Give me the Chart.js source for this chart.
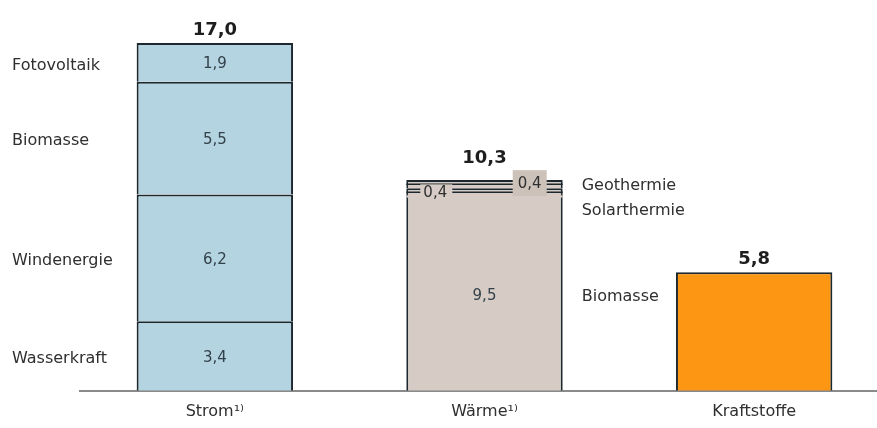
<!DOCTYPE html>
<html lang="de">
<head>
<meta charset="utf-8">
<title>Erneuerbare Energien nach Sektoren</title>
<script src="https://cdn.jsdelivr.net/npm/chart.js@4/dist/chart.umd.min.js"></script>
<style>
  html, body { margin: 0; padding: 0; background: #ffffff; overflow: hidden; }
  #wrap { width: 890px; height: 428px; }
</style>
</head>
<body>
<div id="wrap"><canvas id="chart" width="890" height="428"></canvas></div>
<script>
// Anteile erneuerbarer Energien je Sektor (in %)
const categories = ['Strom¹⁾', 'Wärme¹⁾', 'Kraftstoffe'];

const wasserkraft    = [3.4, null, null];
const windenergie    = [6.2, null, null];
const biomasseStrom  = [5.5, null, null];
const fotovoltaik    = [1.9, null, null];

const biomasseWaerme = [null, 9.5, null];
const solarthermie   = [null, 0.4, null];
const geothermie     = [null, 0.4, null];

const kraftstoffe    = [null, null, 5.8];

const FONT = '"DejaVu Sans", "Liberation Sans", Arial, sans-serif';
const BLUE = '#b3d4e0';
const BEIGE = '#d6ccc5';
const ORANGE = '#fd9612';
const EDGE = '#1c282e';
const TEXT = '#2f2f2f';

const fmt = v => v.toFixed(1).replace('.', ',');

const datasets = [
  { label: 'Wasserkraft',  data: wasserkraft,    backgroundColor: BLUE,   side: 'left' },
  { label: 'Windenergie',  data: windenergie,    backgroundColor: BLUE,   side: 'left' },
  { label: 'Biomasse',     data: biomasseStrom,  backgroundColor: BLUE,   side: 'left' },
  { label: 'Fotovoltaik',  data: fotovoltaik,    backgroundColor: BLUE,   side: 'left' },
  { label: 'Biomasse',     data: biomasseWaerme, backgroundColor: BEIGE,  side: 'right',
    borderWidth: { left: 2, right: 2, top: 0, bottom: 0 } },
  { label: 'Solarthermie', data: solarthermie,   backgroundColor: BEIGE,  side: 'right', small: 'left' },
  { label: 'Geothermie',   data: geothermie,     backgroundColor: BEIGE,  side: 'right', small: 'right' },
  { label: 'Kraftstoffe',  data: kraftstoffe,    backgroundColor: ORANGE, side: 'none' }
].map(d => Object.assign({
  borderColor: EDGE,
  borderWidth: 2,
  borderSkipped: 'start',
  barPercentage: 0.58,
  categoryPercentage: 1.0
}, d));

// Beschriftungen der Segmente, Summen und Seitenlegenden
const labelPlugin = {
  id: 'segmentLabels',
  afterDatasetsDraw(chart) {
    const ctx = chart.ctx;
    const nCat = categories.length;
    ctx.save();

    // Kopfbereich der Wärme-Säule: Fuge schließen, feine Zwischenlinien
    chart.data.datasets.forEach((ds, di) => {
      if (!ds.small) return;
      const meta = chart.getDatasetMeta(di);
      meta.data.forEach((el, i) => {
        if (ds.data[i] == null) return;
        const p = el.getProps(['x', 'y', 'base', 'width'], true);
        const l = p.x - p.width / 2, r = p.x + p.width / 2;
        if (ds.small === 'left') {
          ctx.fillStyle = BEIGE;
          ctx.fillRect(l + 1, p.base - 1.5, p.width - 2, 3);
        }
        const mid = (p.y + p.base) / 2;
        ctx.strokeStyle = EDGE;
        ctx.lineWidth = 1.5;
        ctx.beginPath();
        ctx.moveTo(l, mid);
        ctx.lineTo(r, mid);
        ctx.stroke();
      });
    });

    ctx.textBaseline = 'middle';

    chart.data.datasets.forEach((ds, di) => {
      const meta = chart.getDatasetMeta(di);
      meta.data.forEach((el, i) => {
        const v = ds.data[i];
        if (v == null) return;
        const p = el.getProps(['x', 'y', 'base', 'width'], true);
        const cy = (p.y + p.base) / 2;
        const left = p.x - p.width / 2;
        const right = p.x + p.width / 2;

        if (ds.small === 'left') {
          ctx.fillStyle = BEIGE;
          ctx.fillRect(left + 14, cy - 8, 32, 16);
          ctx.fillStyle = TEXT;
          ctx.font = '15px ' + FONT;
          ctx.textAlign = 'center';
          ctx.fillText(fmt(v), left + 29, cy + 0.5);
        } else if (ds.small === 'right') {
          ctx.fillStyle = '#cdc2ba';
          ctx.fillRect(right - 50, cy - 14, 34, 26);
          ctx.fillStyle = TEXT;
          ctx.font = '15px ' + FONT;
          ctx.textAlign = 'center';
          ctx.fillText(fmt(v), right - 33, cy);
        } else if (ds.side !== 'none') {
          ctx.fillStyle = '#33414a';
          ctx.font = '15px ' + FONT;
          ctx.textAlign = 'center';
          ctx.fillText(fmt(v), p.x, cy + 2);
        }

        // Seitenlegende
        ctx.fillStyle = TEXT;
        ctx.font = '16px ' + FONT;
        if (ds.side === 'left') {
          ctx.textAlign = 'left';
          ctx.fillText(ds.label, 12, cy + 3);
        } else if (ds.side === 'right') {
          ctx.textAlign = 'left';
          let ly = cy + 3;
          if (ds.small === 'right') ly = cy + 2;
          if (ds.small === 'left') ly = cy + 19;
          ctx.fillText(ds.label, right + 19, ly);
        }
      });
    });

    // Summen über den Säulen
    for (let i = 0; i < nCat; i++) {
      let total = 0, top = Infinity, x = 0;
      chart.data.datasets.forEach((ds, di) => {
        const v = ds.data[i];
        if (v == null) return;
        total += v;
        const p = chart.getDatasetMeta(di).data[i].getProps(['x', 'y'], true);
        top = Math.min(top, p.y);
        x = p.x;
      });
      const hasHeadBox = chart.data.datasets.some(ds => ds.small && ds.data[i] != null);
      ctx.fillStyle = '#1e1e1e';
      ctx.font = 'bold 18px ' + FONT;
      ctx.textAlign = 'center';
      ctx.fillText(fmt(total), x, top - (hasHeadBox ? 22 : 13));
    }

    ctx.restore();
  }
};

new Chart(document.getElementById('chart'), {
  type: 'bar',
  data: { labels: categories, datasets },
  options: {
    responsive: false,
    animation: false,
    layout: { padding: { left: 80, right: 1, top: 0, bottom: -4 } },
    plugins: {
      legend: { display: false },
      tooltip: { enabled: false }
    },
    scales: {
      x: {
        stacked: true,
        grid: { display: false, drawTicks: false },
        border: { display: true, color: '#8a8a8a', width: 2 },
        ticks: { color: TEXT, font: { family: FONT, size: 16 }, padding: 11 }
      },
      y: {
        stacked: true,
        display: false,
        min: 0,
        max: 19.1
      }
    }
  },
  plugins: [labelPlugin]
});
</script>
</body>
</html>
